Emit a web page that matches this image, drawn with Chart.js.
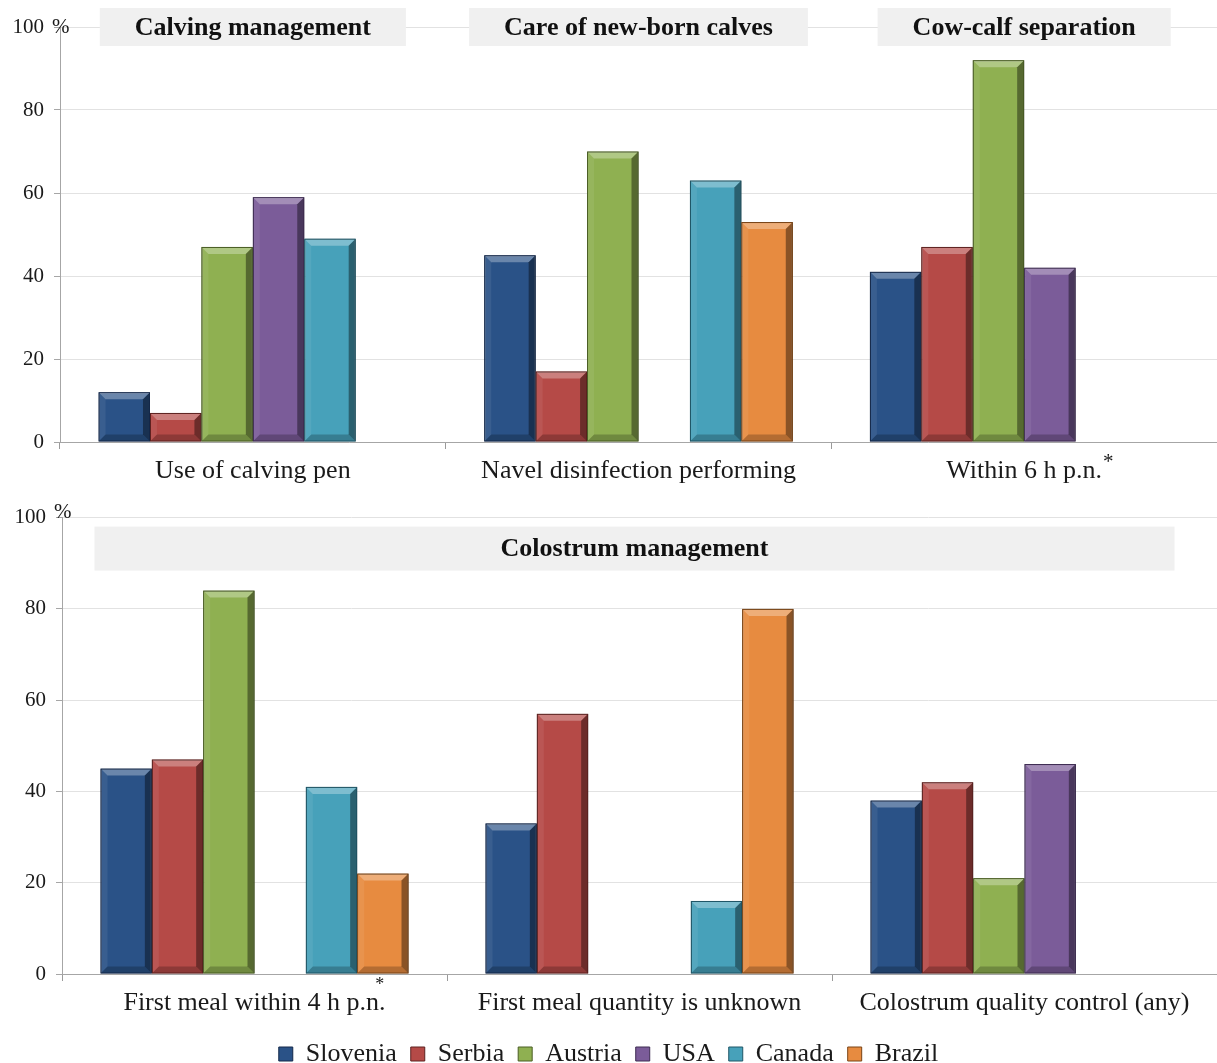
<!DOCTYPE html>
<html>
<head>
<meta charset="utf-8">
<script src="https://cdn.jsdelivr.net/npm/chart.js@4.4.1/dist/chart.umd.min.js"></script>
<style>
  html, body { margin: 0; padding: 0; background: #fff; overflow: hidden; }
  #wrap { position: relative; width: 1217px; height: 1063px; overflow: hidden; }
  .panel { position: absolute; left: 0; width: 1217px; }
</style>
</head>
<body>
<div id="wrap">
  <div class="panel" style="top:0;height:495px"><canvas id="topChart"></canvas></div>
  <div class="panel" style="top:495px;height:582px"><canvas id="bottomChart"></canvas></div>
</div>
<script>
// countries (legend)
const countries = ["Slovenia", "Serbia", "Austria", "USA", "Canada", "Brazil"];

// upper panel
const topCategories = ["Use of calving pen", "Navel disinfection performing", "Within 6 h p.n."];
const topHeaders = ["Calving management", "Care of new-born calves", "Cow-calf separation"];
const topSlovenia = [12, 45, 41];
const topSerbia   = [7, 17, 47];
const topAustria  = [47, 70, 92];
const topUSA      = [59, null, 42];
const topCanada   = [49, 63, null];
const topBrazil   = [null, 53, null];

// lower panel
const bottomCategories = ["First meal within 4 h p.n.", "First meal quantity is unknown", "Colostrum quality control (any)"];
const bottomHeader = "Colostrum management";
const bottomSlovenia = [45, 33, 38];
const bottomSerbia   = [47, 57, 42];
const bottomAustria  = [84, null, 21];
const bottomUSA      = [null, null, 46];
const bottomCanada   = [41, 16, null];
const bottomBrazil   = [22, 80, null];

const yTicks = [0, 20, 40, 60, 80, 100];

const fills = ["#2a5287", "#b54a47", "#8fb051", "#7b5c99", "#47a1ba", "#e78b40"];
const edges = ["#14294a", "#5e2220", "#4a5e24", "#3e2c52", "#1f5666", "#7a4416"];

const serif = "'Liberation Serif', 'Times New Roman', serif";
Chart.defaults.font.family = serif;
Chart.defaults.color = "#1a1a1a";

function makeSets(rows) {
  return rows.map((vals, i) => ({
    label: countries[i],
    data: vals,
    backgroundColor: fills[i],
    borderColor: edges[i],
    borderWidth: 1,
    categoryPercentage: 0.8,
    barPercentage: 1.0
  }));
}

// bevelled look like the office "3D" bars
const bevel = {
  id: "bevel",
  afterDatasetsDraw(chart) {
    const ctx = chart.ctx;
    chart.data.datasets.forEach((ds, di) => {
      const meta = chart.getDatasetMeta(di);
      meta.data.forEach((el, i) => {
        if (ds.data[i] == null) return;
        const p = el.getProps(["x", "y", "base", "width"], true);
        const l = p.x - p.width / 2, r = p.x + p.width / 2;
        const t = Math.min(p.y, p.base), b = Math.max(p.y, p.base);
        const s = Math.min(7, (b - t) / 2);
        const poly = (pts, col) => {
          ctx.beginPath();
          ctx.moveTo(pts[0][0], pts[0][1]);
          for (let k = 1; k < pts.length; k++) ctx.lineTo(pts[k][0], pts[k][1]);
          ctx.closePath();
          ctx.fillStyle = col;
          ctx.fill();
        };
        ctx.save();
        poly([[l, t], [r, t], [r - s, t + s], [l + s, t + s]], "rgba(255,255,255,0.30)");
        poly([[l, t], [l + s, t + s], [l + s, b - s], [l, b]], "rgba(255,255,255,0.07)");
        poly([[r, t], [r, b], [r - s, b - s], [r - s, t + s]], "rgba(0,0,0,0.40)");
        poly([[l, b], [r, b], [r - s, b - s], [l + s, b - s]], "rgba(0,0,0,0.22)");
        ctx.strokeStyle = edges[di];
        ctx.lineWidth = 1;
        ctx.strokeRect(l + 0.5, t + 0.5, p.width - 1, b - t - 1);
        ctx.restore();
      });
    });
  }
};

function headerBox(ctx, cx, cy, w, h, text) {
  ctx.save();
  ctx.fillStyle = "#f0f0f0";
  ctx.fillRect(cx - w / 2, cy - h / 2, w, h);
  ctx.fillStyle = "#111";
  ctx.font = "bold 26px " + serif;
  ctx.textAlign = "center";
  ctx.textBaseline = "middle";
  ctx.fillText(text, cx, cy + 1);
  ctx.restore();
}

function percentSign(chart, dy) {
  const ctx = chart.ctx, ys = chart.scales.y;
  ctx.save();
  ctx.font = "21px " + serif;
  ctx.fillStyle = "#1a1a1a";
  ctx.textAlign = "left";
  ctx.textBaseline = "middle";
  ctx.fillText("%", ys.right - 8, ys.getPixelForValue(100) + dy);
  ctx.restore();
}

const topDecor = {
  id: "topDecor",
  beforeDatasetsDraw(chart) {
    const xs = chart.scales.x, ctx = chart.ctx;
    ctx.save();
    ctx.font = "bold 26px " + serif;
    topHeaders.forEach((h, i) => {
      const w = ctx.measureText(h).width + 70;
      headerBox(ctx, xs.getPixelForValue(i), chart.chartArea.top, w, 38, h);
    });
    ctx.restore();
  },
  afterDraw(chart) {
    percentSign(chart, 0);
    const xs = chart.scales.x, ctx = chart.ctx;
    ctx.save();
    ctx.font = "26px " + serif;
    const w = ctx.measureText(topCategories[2]).width;
    ctx.font = "21px " + serif;
    ctx.fillStyle = "#1a1a1a";
    ctx.textBaseline = "top";
    ctx.fillText("*", xs.getPixelForValue(2) + w / 2 + 1, xs.top + 10);
    ctx.restore();
  }
};

const bottomDecor = {
  id: "bottomDecor",
  beforeDatasetsDraw(chart) {
    const a = chart.chartArea;
    headerBox(chart.ctx, (a.left + a.right) / 2 - 5, a.top + 31, a.right - a.left - 75, 44, bottomHeader);
  },
  afterDraw(chart) {
    percentSign(chart, -5);
    const el = chart.getDatasetMeta(5).data[0];
    const ctx = chart.ctx;
    ctx.save();
    ctx.font = "18px " + serif;
    ctx.fillStyle = "#1a1a1a";
    ctx.textAlign = "center";
    ctx.textBaseline = "top";
    ctx.fillText("*", el.x - 3, chart.scales.x.top + 2);
    ctx.restore();
  }
};

function axes(yWidth, xHeight) {
  return {
    x: {
      grid: { offset: true, drawOnChartArea: false, tickLength: 7, tickColor: "#9a9a9a" },
      border: { color: "#a6a6a6" },
      ticks: { font: { size: 26 }, color: "#1a1a1a", padding: 7, maxRotation: 0 },
      afterFit(s) { s.height = xHeight; }
    },
    y: {
      min: 0, max: 100,
      afterBuildTicks(s) { s.ticks = yTicks.map(v => ({ value: v })); },
      grid: { color: "#e2e2e2", tickLength: 6, tickColor: "#a6a6a6" },
      border: { color: "#a6a6a6" },
      ticks: { font: { size: 21 }, color: "#1a1a1a", padding: 10 },
      afterFit(s) { s.width = yWidth; }
    }
  };
}

new Chart(document.getElementById("topChart"), {
  type: "bar",
  data: {
    labels: topCategories,
    datasets: makeSets([topSlovenia, topSerbia, topAustria, topUSA, topCanada, topBrazil])
  },
  options: {
    responsive: true,
    maintainAspectRatio: false,
    animation: false,
    layout: { padding: { top: 27, right: 0, left: 0, bottom: 0 } },
    plugins: { legend: { display: false }, tooltip: { enabled: false } },
    scales: axes(60, 53)
  },
  plugins: [topDecor, bevel]
});

new Chart(document.getElementById("bottomChart"), {
  type: "bar",
  data: {
    labels: bottomCategories,
    datasets: makeSets([bottomSlovenia, bottomSerbia, bottomAustria, bottomUSA, bottomCanada, bottomBrazil])
  },
  options: {
    responsive: true,
    maintainAspectRatio: false,
    animation: false,
    layout: { padding: { top: 2, right: 0, left: 0, bottom: 0 } },
    plugins: {
      legend: {
        position: "bottom",
        labels: { boxWidth: 14, boxHeight: 14, padding: 14, font: { size: 26 }, color: "#1a1a1a" }
      },
      tooltip: { enabled: false }
    },
    scales: axes(62, 53)
  },
  plugins: [bottomDecor, bevel]
});
</script>
</body>
</html>
